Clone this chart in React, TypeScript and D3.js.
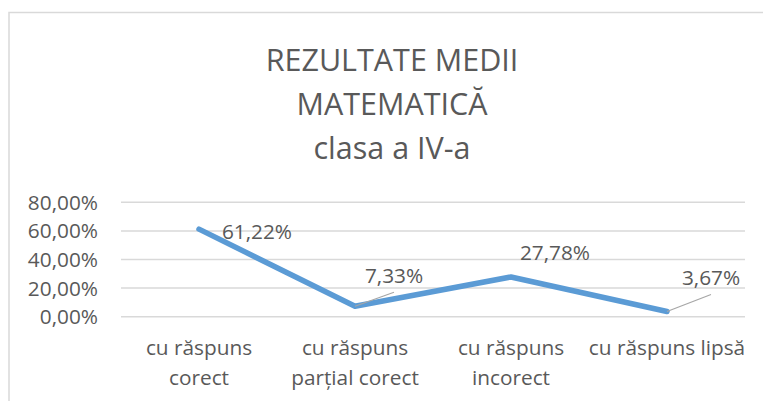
import React from "react";
import * as d3 from "d3";

const categories: string[][] = [
  ["cu răspuns", "corect"],
  ["cu răspuns", "parțial corect"],
  ["cu răspuns", "incorect"],
  ["cu răspuns lipsă"],
];
const values: number[] = [0.6122, 0.0733, 0.2778, 0.0367];
const yTicks: number[] = [0, 0.2, 0.4, 0.6, 0.8];
const titleLines: string[] = ["REZULTATE MEDII", "MATEMATICĂ", "clasa a IV-a"];

// label placement (layout only): offsets of label centre from its point
const labelOffsets: [number, number][] = [
  [58, 2],
  [39, -31],
  [44, -24],
  [44, -34],
];
const hasLeader: boolean[] = [false, true, false, true];

const W = 763;
const H = 401;
const FONT = "'Open Sans', 'Noto Sans', sans-serif";
const TEXT = "#595959";
const FS = 20.8;

const fmt = (v: number) => (v * 100).toFixed(2).replace(".", ",") + "%";

export default function App() {
  const x = d3
    .scaleBand<number>()
    .domain(values.map((_, i) => i))
    .range([121, 745]);
  const y = d3.scaleLinear().domain([0, 0.8]).range([316.7, 202.3]);
  const cx = (i: number) => (x(i) as number) + x.bandwidth() / 2;

  const line = d3
    .line<number>()
    .x((_, i) => cx(i))
    .y((d) => y(d));

  return (
    <svg
      width={W}
      height={H}
      style={{ position: "absolute", left: 0, top: 0, background: "#fff" }}
      fontFamily={FONT}
    >
      <rect x={0} y={0} width={W} height={H} fill="#fff" />
      <rect
        x={9}
        y={12.5}
        width={W + 20}
        height={H + 20}
        fill="#fff"
        stroke="#d9d9d9"
        strokeWidth={1.5}
      />
      {titleLines.map((t, i) => (
        <text
          key={t}
          x={392}
          y={71 + i * 44}
          textAnchor="middle"
          fontSize={30.5}
          fill={TEXT}
        >
          {t}
        </text>
      ))}
      {yTicks.map((t) => (
        <g key={t}>
          <line
            x1={121}
            x2={745}
            y1={y(t)}
            y2={y(t)}
            stroke="#d9d9d9"
            strokeWidth={1.5}
          />
          <text
            x={98}
            y={y(t)}
            dy="0.36em"
            textAnchor="end"
            fontSize={FS}
            fill={TEXT}
          >
            {fmt(t)}
          </text>
        </g>
      ))}
      {categories.map((lines, i) => (
        <text
          key={i}
          x={cx(i)}
          y={355}
          textAnchor="middle"
          fontSize={FS}
          fill={TEXT}
        >
          {lines.map((l, j) => (
            <tspan key={j} x={cx(i)} dy={j === 0 ? 0 : 30}>
              {l}
            </tspan>
          ))}
        </text>
      ))}
      <path
        d={line(values) || ""}
        fill="none"
        stroke="#5B9BD5"
        strokeWidth={5.5}
        strokeLinejoin="round"
        strokeLinecap="round"
      />
      {values.map((v, i) => {
        const px = cx(i);
        const py = y(v);
        const lx = px + labelOffsets[i][0];
        const ly = py + labelOffsets[i][1];
        return (
          <g key={i}>
            {hasLeader[i] && (
              <line
                x1={px}
                y1={py}
                x2={lx}
                y2={ly + 17}
                stroke="#a6a6a6"
                strokeWidth={1.2}
              />
            )}
            <text
              x={lx}
              y={ly}
              dy="0.36em"
              textAnchor="middle"
              fontSize={FS}
              fill={TEXT}
            >
              {fmt(v)}
            </text>
          </g>
        );
      })}
    </svg>
  );
}
